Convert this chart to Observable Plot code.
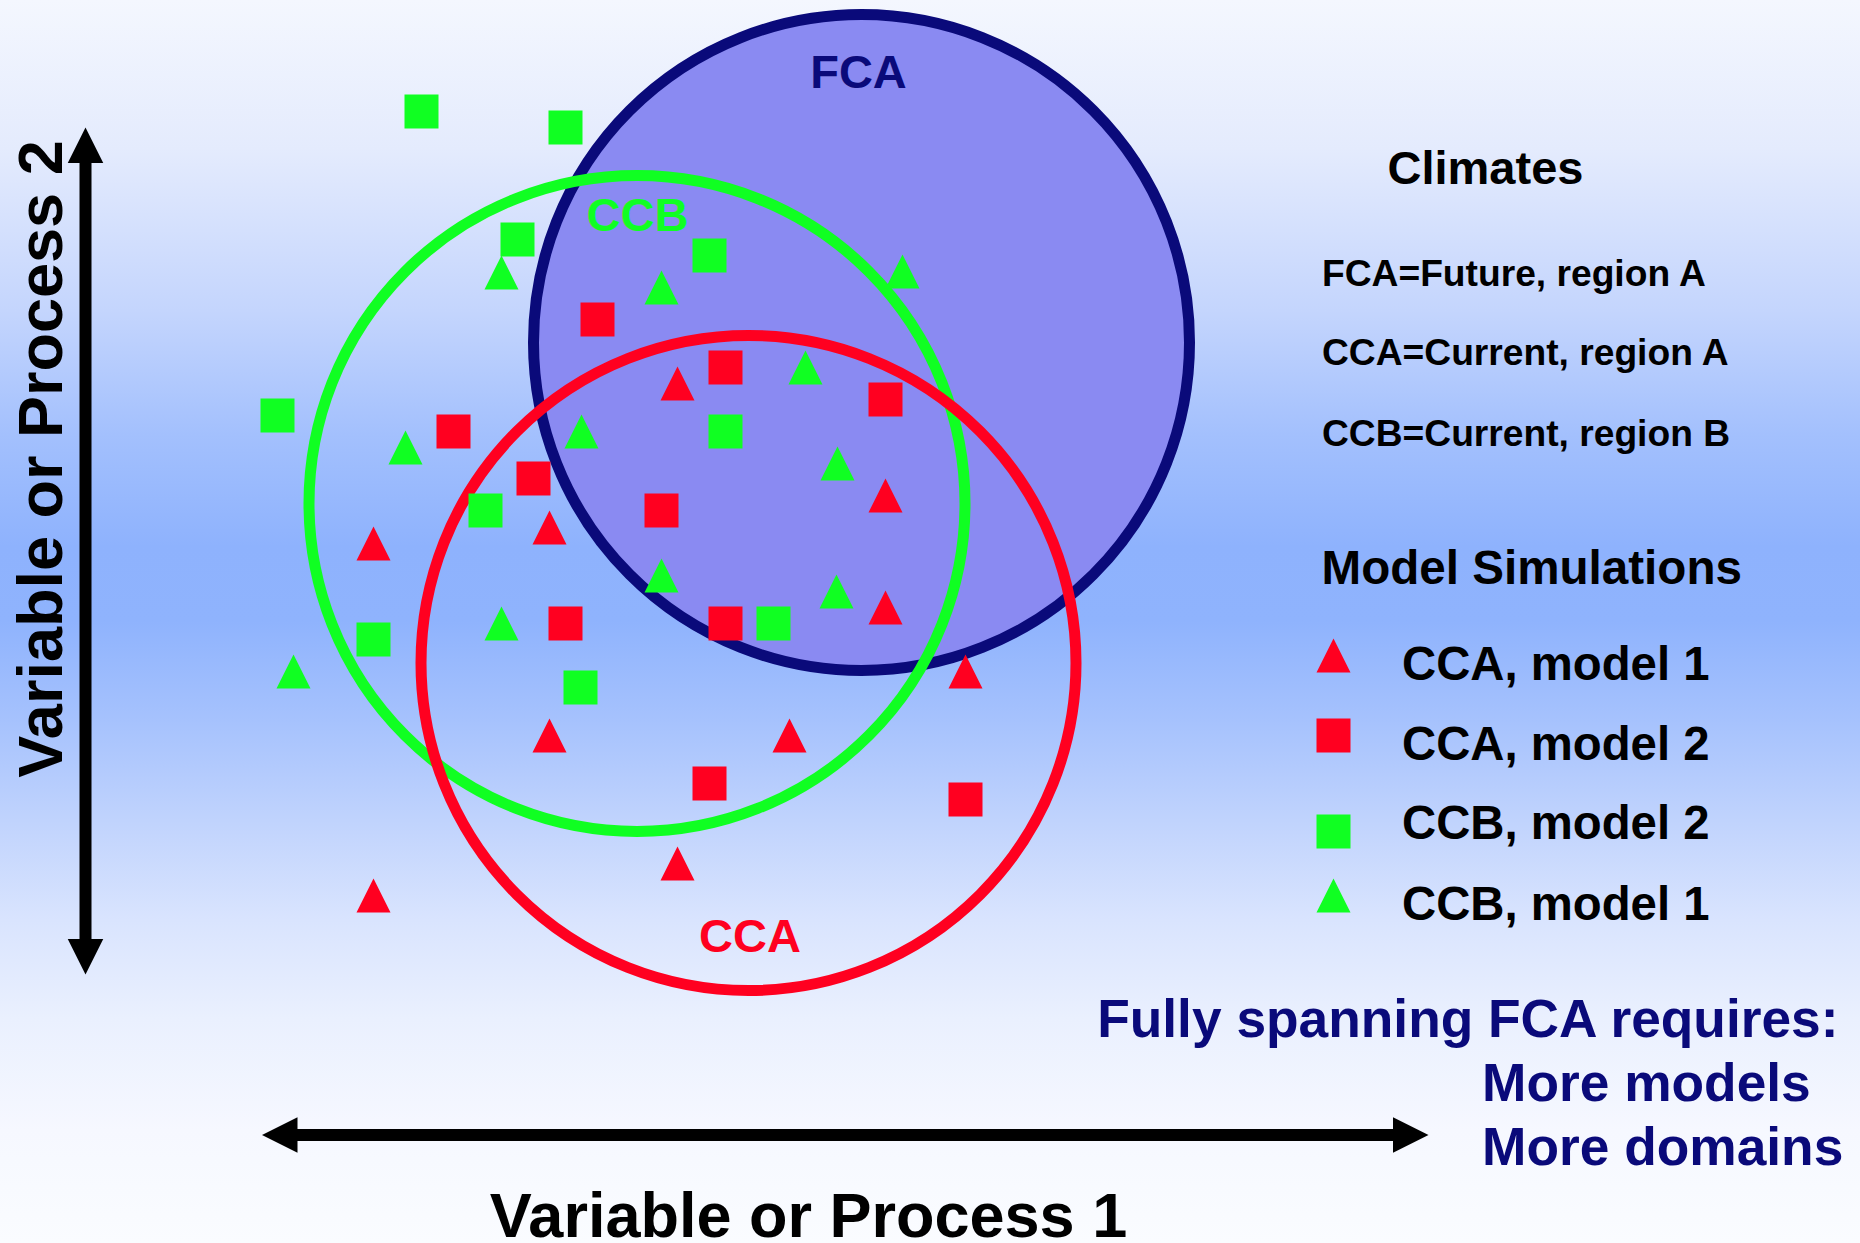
<!DOCTYPE html>
<html>
<head>
<meta charset="utf-8">
<script src="https://cdn.jsdelivr.net/npm/d3@7"></script>
<script src="https://cdn.jsdelivr.net/npm/@observablehq/plot@0.6"></script>
<style>
  html, body { margin: 0; padding: 0; }
  body {
    width: 1860px; height: 1243px; overflow: hidden;
    background: linear-gradient(to bottom,
      #f4f7fe 0%, #e4ebfd 12%, #c4d5fd 25%, #a3c0fd 35%, #8eb2fd 44%,
      #8fb3fd 50%, #a6c2fd 58%, #c0d3fd 66%, #d9e4fe 74%, #eaf0fe 82%, #f6f8ff 91%, #fafcff 100%);
  }
  #chart svg { display: block; }
</style>
</head>
<body>
<div id="chart"></div>
<script>
// ---------------- DATA (diagram units: v1 = Variable or Process 1, v2 = Variable or Process 2, v2 measured downward) ----------------
const ccaModel1 = [[677,383],[373,543],[549,527],[885,495],[885,607],[965,671],[549,735],[789,735],[677,863],[373,895]];
const ccaModel2 = [[597,319],[725,367],[885,399],[453,431],[533,478],[661,510],[565,623],[725,623],[709,783],[965,799]];
const ccbModel2 = [[421,111],[565,127],[517,239],[709,255],[277,415],[725,431],[485,510],[373,639],[580,687],[773,623]];
const ccbModel1 = [[501,272],[661,287],[902,271],[805,367],[405,447],[581,431],[837,463],[661,575],[836,591],[501,623],[293,671]];

const climateNames    = ["FCA", "CCB", "CCA"];
const climateCenterV1 = [861, 636.5, 748];
const climateCenterV2 = [342, 503, 662.5];
const climateRadius   = [328, 328, 327.5];

const climatesTitle      = "Climates";
const climateDefinitions = ["FCA=Future, region A", "CCA=Current, region A", "CCB=Current, region B"];
const simulationsTitle   = "Model Simulations";
const seriesLabels       = ["CCA, model 1", "CCA, model 2", "CCB, model 2", "CCB, model 1"];
const requirementLines   = ["Fully spanning FCA requires:", "More models", "More domains"];
const axisLabels         = ["Variable or Process 1", "Variable or Process 2"];

// ---------------- STYLE / LAYOUT ----------------
const W = 1860, H = 1243;
const font = "'Liberation Sans', Arial, Helvetica, sans-serif";
const col = { FCA: "#0a0a7a", CCA: "#ff0020", CCB: "#10ff22", fcaFill: "#8a8af2", ink: "#000000", navy: "#0a0a7a" };

function triangleSymbol(angleDeg) {
  const a = angleDeg * Math.PI / 180, c = Math.cos(a), s = Math.sin(a);
  return { draw(ctx, size) {
    const r = Math.sqrt(size / Math.PI);
    const p = [[0, -r], [r, r], [-r, r]].map(([x, y]) => [x * c - y * s, x * s + y * c]);
    ctx.moveTo(p[0][0], p[0][1]); ctx.lineTo(p[1][0], p[1][1]); ctx.lineTo(p[2][0], p[2][1]); ctx.closePath();
  }};
}
const squareSymbol = { draw(ctx, size) { const r = Math.sqrt(size / Math.PI); ctx.moveTo(-r, -r); ctx.lineTo(r, -r); ctx.lineTo(r, r); ctx.lineTo(-r, r); ctx.closePath(); } };
const triUp = triangleSymbol(0);

const series = [
  { label: seriesLabels[0], points: ccaModel1, fill: col.CCA, symbol: triUp },
  { label: seriesLabels[1], points: ccaModel2, fill: col.CCA, symbol: squareSymbol },
  { label: seriesLabels[2], points: ccbModel2, fill: col.CCB, symbol: squareSymbol },
  { label: seriesLabels[3], points: ccbModel1, fill: col.CCB, symbol: triUp }
];

const climates = climateNames.map((name, i) => ({ name, v1: climateCenterV1[i], v2: climateCenterV2[i], radius: climateRadius[i] }));
const climateLabelPos = { FCA: [858, 87], CCB: [637, 230], CCA: [749.5, 951] };
const markerR = 17, arrowR = 17.75, ringWidth = 11;

const legendX = 1333, legendTextX = 1401.5;
const legendMarkerY = [655, 735, 831, 895];
const legendTextY = [679, 759, 838.5, 919];

const marks = [];

// climate circles (FCA first, then CCB, then CCA on top)
const ring = (name, extra) => Plot.dot(climates.filter(d => d.name === name), {
  x: "v1", y: "v2", r: "radius", stroke: col[name], strokeWidth: ringWidth, fill: "none", ...extra
});
marks.push(ring("FCA", { fill: col.fcaFill }));
marks.push(ring("CCB"));
marks.push(ring("CCA"));

// climate labels
marks.push(Plot.text(climates, {
  x: d => climateLabelPos[d.name][0], y: d => climateLabelPos[d.name][1], text: "name",
  fill: d => col[d.name], fontSize: 47, fontWeight: "bold", lineAnchor: "bottom", textAnchor: "middle"
}));

// model simulation markers
for (const s of series) {
  marks.push(Plot.dot(s.points, { x: d => d[0], y: d => d[1], symbol: s.symbol, r: markerR, fill: s.fill, stroke: "none" }));
}

// axis arrows
const yArrow = { v1: 85, top: 127, bottom: 974 };
const xArrow = { v2: 1134.5, left: 261.5, right: 1428 };
marks.push(Plot.link([0], { x1: yArrow.v1, x2: yArrow.v1, y1: yArrow.top + 30, y2: yArrow.bottom - 30, stroke: col.ink, strokeWidth: 12 }));
marks.push(Plot.link([0], { x1: xArrow.left + 30, x2: xArrow.right - 30, y1: xArrow.v2, y2: xArrow.v2, stroke: col.ink, strokeWidth: 12 }));
marks.push(Plot.dot([0], { x: yArrow.v1, y: yArrow.top + arrowR, symbol: triangleSymbol(0), r: arrowR, fill: col.ink }));
marks.push(Plot.dot([0], { x: yArrow.v1, y: yArrow.bottom - arrowR, symbol: triangleSymbol(180), r: arrowR, fill: col.ink }));
marks.push(Plot.dot([0], { x: xArrow.left + arrowR, y: xArrow.v2, symbol: triangleSymbol(-90), r: arrowR, fill: col.ink }));
marks.push(Plot.dot([0], { x: xArrow.right - arrowR, y: xArrow.v2, symbol: triangleSymbol(90), r: arrowR, fill: col.ink }));

// axis labels
marks.push(Plot.text([axisLabels[0]], { x: 808, y: 1236, text: d => d, fontSize: 63, fontWeight: "bold", fill: col.ink, lineAnchor: "bottom", textAnchor: "middle" }));
marks.push(Plot.text([axisLabels[1]], { x: 61, y: 458.5, text: d => d, rotate: -90, fontSize: 63, fontWeight: "bold", fill: col.ink, lineAnchor: "bottom", textAnchor: "middle" }));

// right-hand panel: climates
marks.push(Plot.text([climatesTitle], { x: 1387, y: 183, text: d => d, fontSize: 47, fontWeight: "bold", fill: col.ink, lineAnchor: "bottom", textAnchor: "start" }));
const defY = [285, 364.5, 445];
marks.push(Plot.text(climateDefinitions, { x: 1321.5, y: (d, i) => defY[i], text: d => d, fontSize: 37.2, fontWeight: "bold", fill: col.ink, lineAnchor: "bottom", textAnchor: "start" }));
marks.push(Plot.text([simulationsTitle], { x: 1321, y: 583, text: d => d, fontSize: 47.6, fontWeight: "bold", fill: col.ink, lineAnchor: "bottom", textAnchor: "start" }));

// legend
series.forEach((s, i) => {
  marks.push(Plot.dot([s], { x: legendX, y: legendMarkerY[i], symbol: s.symbol, r: markerR, fill: s.fill }));
});
marks.push(Plot.text(seriesLabels, { x: legendTextX, y: (d, i) => legendTextY[i], text: d => d, fontSize: 47.3, fontWeight: "bold", fill: col.ink, lineAnchor: "bottom", textAnchor: "start" }));

// requirements note
marks.push(Plot.text([requirementLines[0]], { x: 1838, y: 1036, text: d => d, fontSize: 53.3, fontWeight: "bold", fill: col.navy, lineAnchor: "bottom", textAnchor: "end" }));
const reqY = [1100.5, 1164];
marks.push(Plot.text(requirementLines.slice(1), { x: 1481.5, y: (d, i) => reqY[i], text: d => d, fontSize: 53.3, fontWeight: "bold", fill: col.navy, lineAnchor: "bottom", textAnchor: "start" }));

const chart = Plot.plot({
  width: W, height: H, margin: 0,
  x: { domain: [0, W], range: [0, W], axis: null },
  y: { domain: [0, H], range: [0, H], axis: null },
  r: { type: "linear", domain: [0, W], range: [0, W] },
  style: { background: "transparent", fontFamily: font, overflow: "visible" },
  marks
});
document.getElementById("chart").append(chart);
</script>
</body>
</html>
